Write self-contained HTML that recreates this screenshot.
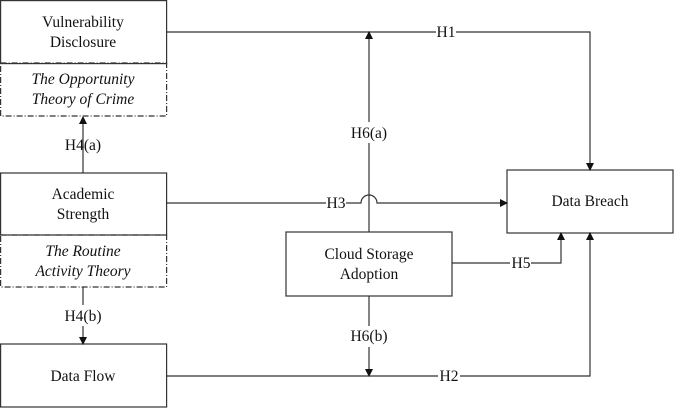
<!DOCTYPE html>
<html><head><style>
body{margin:0;background:#fff;}
svg text{font-family:"Liberation Serif",serif;font-size:15.5px;fill:#111;}
</style></head><body>
<svg width="674" height="408" viewBox="0 0 674 408" xmlns="http://www.w3.org/2000/svg">
<defs><marker id="a" markerWidth="8" markerHeight="8" refX="7" refY="4" orient="auto" markerUnits="userSpaceOnUse"><path d="M0,0 L8,4 L0,8 z" fill="#111"/></marker></defs>
<g fill="none" stroke="#333" stroke-width="1.2">
<rect x="0.6" y="0.6" width="166" height="63"/>
<rect x="0.6" y="63" width="166" height="53" stroke-dasharray="6,2,1,2"/>
<rect x="0.6" y="173" width="166" height="62"/>
<rect x="0.6" y="235" width="166" height="52" stroke-dasharray="6,2,1,2"/>
<rect x="0.6" y="344" width="166" height="63"/>
<rect x="507" y="170" width="166" height="63"/>
<rect x="286" y="232" width="166" height="64"/>
<path d="M83,173 V137 M83,153 V117" marker-end="url(#a)"/>
<path d="M83,287 V305 M83,326 V344" marker-end="url(#a)"/>
<path d="M166,32 H436 M456,32 H590 V170" marker-end="url(#a)"/>
<path d="M166,203 H326 M346,203 H361 A8,8 0 0 1 377,203 H507" marker-end="url(#a)"/>
<path d="M369,232 V143 M369,122 V32" marker-end="url(#a)"/>
<path d="M369,296 V326 M369,347 V376" marker-end="url(#a)"/>
<path d="M452,263 H510 M531,263 H561 V233" marker-end="url(#a)"/>
<path d="M166,376 H438 M460,376 H590 V233" marker-end="url(#a)"/>
</g>
<g text-anchor="middle">
<text x="83" y="27">Vulnerability</text><text x="83" y="47">Disclosure</text>
<text x="83" y="84" font-style="italic">The Opportunity</text><text x="83" y="104" font-style="italic">Theory of Crime</text>
<text x="83" y="150">H4(a)</text>
<text x="83" y="199">Academic</text><text x="83" y="219">Strength</text>
<text x="83" y="256" font-style="italic">The Routine</text><text x="83" y="276" font-style="italic">Activity Theory</text>
<text x="83" y="321">H4(b)</text>
<text x="83" y="381">Data Flow</text>
<text x="590" y="206">Data Breach</text>
<text x="369" y="259">Cloud Storage</text><text x="369" y="279">Adoption</text>
<text x="446" y="37">H1</text>
<text x="336" y="208">H3</text>
<text x="369" y="138">H6(a)</text>
<text x="369" y="341">H6(b)</text>
<text x="521" y="268">H5</text>
<text x="449" y="381">H2</text>
</g>
</svg>
</body></html>
